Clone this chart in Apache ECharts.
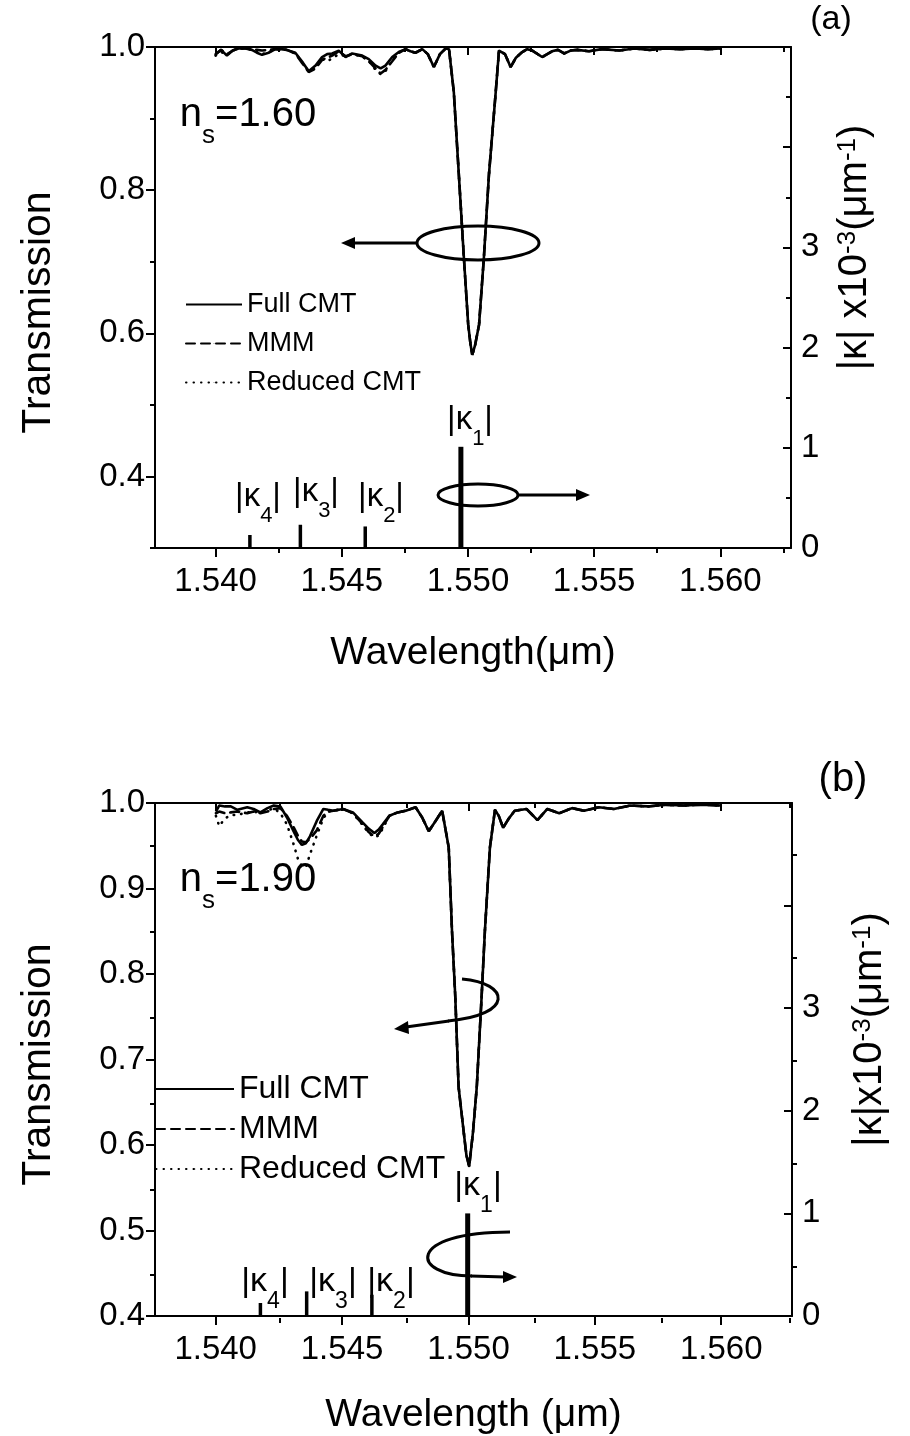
<!DOCTYPE html>
<html>
<head>
<meta charset="utf-8">
<script src="https://cdn.jsdelivr.net/npm/echarts@6.0.0/dist/echarts.min.js"></script>
<style>
  html, body { margin: 0; padding: 0; background: #fff; }
  #chart { width: 910px; height: 1436px; }
</style>
</head>
<body>
<div id="chart"></div>
<script>
// ---------- Panel (a): n_s = 1.60 ----------
const wavelengthA = [
  1.54000, 1.54022, 1.54045, 1.54068, 1.54091, 1.54118, 1.54144, 1.54164, 1.54184, 1.54210,
  1.54237, 1.54260, 1.54282, 1.54316, 1.54342, 1.54369, 1.54396, 1.54422, 1.54442, 1.54462,
  1.54488, 1.54515, 1.54541, 1.54581, 1.54607, 1.54634, 1.54654, 1.54673, 1.54700, 1.54726,
  1.54753, 1.54772, 1.54792, 1.54819, 1.54841, 1.54865, 1.54889, 1.54912, 1.54925, 1.54944,
  1.54964, 1.54984, 1.55001, 1.55010, 1.55017, 1.55028, 1.55044, 1.55063, 1.55083, 1.55110,
  1.55123, 1.55147, 1.55169, 1.55190, 1.55215, 1.55235, 1.55255, 1.55294, 1.55333, 1.55357,
  1.55381, 1.55407, 1.55433, 1.55480, 1.55530, 1.55600, 1.55660, 1.55720, 1.55780, 1.55840,
  1.55900, 1.55950, 1.56000
];
const fullCmtA = [
  0.990, 0.996, 0.988, 0.995, 0.998, 0.998, 0.996, 0.992, 0.989, 0.992,
  0.997, 0.997, 0.996, 0.992, 0.980, 0.966, 0.974, 0.986, 0.990, 0.991,
  0.995, 0.986, 0.991, 0.988, 0.983, 0.974, 0.970, 0.974, 0.986, 0.993,
  0.997, 0.994, 0.992, 0.997, 0.990, 0.972, 0.990, 0.998, 0.997, 0.937,
  0.821, 0.705, 0.612, 0.585, 0.570, 0.583, 0.612, 0.705, 0.821, 0.937,
  0.995, 0.990, 0.972, 0.985, 0.993, 0.997, 0.995, 0.986, 0.994, 0.996,
  0.991, 0.995, 0.996, 0.994, 0.997, 0.995, 0.998, 0.996, 0.998, 0.997,
  0.998, 0.997, 0.998
];
const mmmA = [
  0.990, 0.996, 0.990, 0.995, 0.998, 0.998, 0.997, 0.996, 0.995, 0.996,
  0.997, 0.997, 0.996, 0.991, 0.978, 0.965, 0.970, 0.982, 0.985, 0.988,
  0.994, 0.987, 0.990, 0.987, 0.980, 0.970, 0.963, 0.968, 0.980, 0.992,
  0.997, 0.994, 0.992, 0.997, 0.990, 0.972, 0.990, 0.998, 0.997, 0.937,
  0.821, 0.705, 0.612, 0.585, 0.570, 0.583, 0.612, 0.705, 0.821, 0.937,
  0.995, 0.990, 0.972, 0.985, 0.993, 0.997, 0.995, 0.986, 0.994, 0.996,
  0.991, 0.995, 0.996, 0.994, 0.997, 0.995, 0.998, 0.996, 0.998, 0.997,
  0.998, 0.997, 0.998
];
const reducedCmtA = [
  0.988, 0.993, 0.989, 0.995, 0.998, 0.998, 0.996, 0.993, 0.990, 0.993,
  0.997, 0.997, 0.996, 0.991, 0.979, 0.966, 0.972, 0.983, 0.980, 0.984,
  0.990, 0.987, 0.990, 0.987, 0.981, 0.968, 0.962, 0.966, 0.982, 0.992,
  0.997, 0.994, 0.992, 0.997, 0.990, 0.972, 0.990, 0.998, 0.997, 0.937,
  0.821, 0.705, 0.612, 0.585, 0.570, 0.583, 0.612, 0.705, 0.821, 0.937,
  0.995, 0.990, 0.972, 0.985, 0.993, 0.997, 0.995, 0.986, 0.994, 0.996,
  0.991, 0.995, 0.996, 0.994, 0.997, 0.995, 0.998, 0.996, 0.998, 0.997,
  0.998, 0.997, 0.998
];
// grating coupling coefficients |κ1|..|κ4| (x10^-3 μm^-1)
const kappaWavelengthA = [1.54972, 1.54593, 1.54336, 1.54136];
const kappaA = [1.01, 0.215, 0.232, 0.13];

// ---------- Panel (b): n_s = 1.90 ----------
const wavelengthB = [
  1.54001, 1.54014, 1.54037, 1.54060, 1.54086, 1.54125, 1.54150, 1.54177, 1.54205, 1.54230,
  1.54256, 1.54282, 1.54308, 1.54325, 1.54341, 1.54357, 1.54373, 1.54400, 1.54426, 1.54445,
  1.54465, 1.54504, 1.54543, 1.54582, 1.54605, 1.54628, 1.54645, 1.54661, 1.54687, 1.54720,
  1.54752, 1.54791, 1.54817, 1.54843, 1.54870, 1.54896, 1.54902, 1.54922, 1.54935, 1.54948,
  1.54961, 1.54979, 1.54992, 1.55003, 1.55018, 1.55033, 1.55052, 1.55065, 1.55085, 1.55105,
  1.55120, 1.55137, 1.55160, 1.55183, 1.55230, 1.55273, 1.55312, 1.55359, 1.55410, 1.55457,
  1.55516, 1.55575, 1.55640, 1.55710, 1.55780, 1.55850, 1.55920, 1.56000
];
const fullCmtB = [
  0.990, 0.997, 0.996, 0.996, 0.992, 0.995, 0.993, 0.989, 0.994, 0.997,
  0.996, 0.983, 0.967, 0.957, 0.951, 0.953, 0.961, 0.979, 0.993, 0.992,
  0.991, 0.993, 0.989, 0.977, 0.970, 0.965, 0.969, 0.975, 0.985, 0.989,
  0.991, 0.995, 0.983, 0.967, 0.979, 0.991, 0.992, 0.948, 0.850, 0.773,
  0.668, 0.621, 0.588, 0.575, 0.615, 0.668, 0.773, 0.850, 0.948, 0.992,
  0.985, 0.971, 0.982, 0.991, 0.993, 0.980, 0.993, 0.988, 0.994, 0.991,
  0.995, 0.993, 0.997, 0.996, 0.998, 0.997, 0.998, 0.997
];
const mmmB = [
  0.988, 0.990, 0.988, 0.989, 0.990, 0.988, 0.990, 0.988, 0.990, 0.993,
  0.994, 0.985, 0.972, 0.962, 0.955, 0.954, 0.958, 0.968, 0.985, 0.990,
  0.991, 0.993, 0.988, 0.975, 0.966, 0.961, 0.964, 0.972, 0.985, 0.989,
  0.991, 0.995, 0.983, 0.967, 0.979, 0.991, 0.992, 0.948, 0.850, 0.773,
  0.668, 0.621, 0.588, 0.575, 0.615, 0.668, 0.773, 0.850, 0.948, 0.992,
  0.985, 0.971, 0.982, 0.991, 0.993, 0.980, 0.993, 0.988, 0.994, 0.991,
  0.995, 0.993, 0.997, 0.996, 0.998, 0.997, 0.998, 0.997
];
const reducedCmtB = [
  0.985, 0.973, 0.982, 0.986, 0.986, 0.989, 0.989, 0.990, 0.991, 0.994,
  0.988, 0.975, 0.952, 0.935, 0.926, 0.925, 0.940, 0.962, 0.982, 0.990,
  0.991, 0.993, 0.988, 0.974, 0.965, 0.960, 0.962, 0.970, 0.985, 0.989,
  0.991, 0.995, 0.983, 0.967, 0.979, 0.991, 0.992, 0.948, 0.850, 0.773,
  0.668, 0.621, 0.588, 0.575, 0.615, 0.668, 0.773, 0.850, 0.948, 0.992,
  0.985, 0.971, 0.982, 0.991, 0.993, 0.980, 0.993, 0.988, 0.994, 0.991,
  0.995, 0.993, 0.997, 0.996, 0.998, 0.997, 0.998, 0.997
];
const kappaWavelengthB = [1.54997, 1.54618, 1.54360, 1.54177];
const kappaB = [1.00, 0.207, 0.240, 0.127];

// ---------- Ticks ----------
const wlMajor = [1.540, 1.545, 1.550, 1.555, 1.560];
const wlMinor = [1.5425, 1.5475, 1.5525, 1.5575, 1.5625];
const transMajorA = [0.4, 0.6, 0.8, 1.0];
const transMinorA = [0.3, 0.5, 0.7, 0.9];
const transMajorB = [0.4, 0.5, 0.6, 0.7, 0.8, 0.9, 1.0];
const transMinorB = [0.45, 0.55, 0.65, 0.75, 0.85, 0.95];
const kappaMajor = [0, 1, 2, 3, 4, 5];
const kappaLabeled = [0, 1, 2, 3];
const kappaMinor = [0.5, 1.5, 2.5, 3.5, 4.5];
const seriesNames = ['Full CMT', 'MMM', 'Reduced CMT'];

// ---------- Layout / style ----------
const FONT = '"Liberation Sans", Arial, Helvetica, sans-serif';
const BLACK = '#000';
const WL_MIN = 1.5376, WL_MAX = 1.5628;
const gridA = { left: 155, top: 47, width: 636, height: 501 };
const gridB = { left: 155, top: 803, width: 642, height: 515 };

const pairs = (xs, ys) => xs.map((x, i) => [x, ys[i]]);
const tickFont = { fontSize: 33, color: BLACK, fontFamily: FONT };
const titleFont = { fontSize: 39, color: BLACK, fontFamily: FONT };
const axisLineStyle = { color: BLACK, width: 2 };

function xAxisDef(gridIndex, position, ticks, opts) {
  return {
    type: 'value', gridIndex, position, min: WL_MIN, max: WL_MAX,
    axisLine: { show: opts.line, onZero: false, lineStyle: axisLineStyle },
    axisTick: { show: true, inside: position === 'top', length: opts.len, customValues: ticks, lineStyle: axisLineStyle },
    axisLabel: { show: !!opts.labels, customValues: ticks, formatter: v => v.toFixed(3), margin: 17, ...tickFont },
    splitLine: { show: false },
    name: opts.name || '', nameLocation: 'middle', nameGap: opts.nameGap || 0, nameTextStyle: titleFont,
    silent: true
  };
}
function yAxisDef(gridIndex, position, min, max, ticks, opts) {
  return {
    type: 'value', gridIndex, position, min, max,
    axisLine: { show: opts.line, onZero: false, lineStyle: axisLineStyle },
    axisTick: { show: true, inside: position === 'right', length: opts.len, customValues: ticks, lineStyle: axisLineStyle },
    axisLabel: {
      show: !!opts.labels, customValues: opts.labels || ticks, margin: 10,
      formatter: opts.fmt || (v => String(v)), ...tickFont
    },
    splitLine: { show: false },
    name: opts.name || '', nameLocation: 'middle', nameGap: opts.nameGap || 0, nameRotate: 90,
    nameTextStyle: opts.nameStyle || titleFont,
    silent: true
  };
}

// left-axis title; right padding nudges it down along the axis
const transTitleStyle = (shift) => ({ ...titleFont, fontSize: 41, padding: [0, shift, 0, 0] });
// right-axis title with superscripts; left padding nudges it up along the axis
const kappaTitleStyle = (shift) => ({
  ...titleFont, fontSize: 40, padding: [0, 0, 0, shift],
  rich: {
    m: { fontSize: 40, lineHeight: 52, fontFamily: FONT, color: BLACK, verticalAlign: 'top' },
    sup: { fontSize: 26, lineHeight: 26, padding: [0, 0, 26, 0], fontFamily: FONT, color: BLACK, verticalAlign: 'top' }
  }
});

const xAxes = [
  xAxisDef(0, 'bottom', wlMajor, { line: true, len: 9, labels: true, name: 'Wavelength(μm)', nameGap: 86 }),
  xAxisDef(0, 'top', wlMajor, { line: true, len: 8 }),
  xAxisDef(1, 'bottom', wlMinor, { line: false, len: 5 }),
  xAxisDef(1, 'top', wlMinor, { line: false, len: 5 }),
  xAxisDef(2, 'bottom', wlMajor, { line: true, len: 9, labels: true, name: 'Wavelength (μm)', nameGap: 80 }),
  xAxisDef(2, 'top', wlMajor, { line: true, len: 8 }),
  xAxisDef(3, 'bottom', wlMinor, { line: false, len: 5 }),
  xAxisDef(3, 'top', wlMinor, { line: false, len: 5 })
];
const fmt1 = v => v.toFixed(1);
const yAxes = [
  yAxisDef(0, 'left', 0.3, 1.0, transMajorA, { line: true, len: 9, labels: transMajorA, fmt: fmt1,
    name: 'Transmission', nameGap: 96, nameStyle: transTitleStyle(30) }),
  yAxisDef(0, 'right', 0, 5, kappaMajor, { line: true, len: 8, labels: kappaLabeled,
    name: '{m||κ| x10}{sup|-3}{m|(μm}{sup|-1}{m|)}', nameGap: 44, nameStyle: kappaTitleStyle(100) }),
  yAxisDef(1, 'left', 0.3, 1.0, transMinorA, { line: false, len: 5 }),
  yAxisDef(1, 'right', 0, 5, kappaMinor, { line: false, len: 5 }),
  yAxisDef(2, 'left', 0.4, 1.0, transMajorB, { line: true, len: 9, labels: transMajorB, fmt: fmt1,
    name: 'Transmission', nameGap: 96, nameStyle: transTitleStyle(10) }),
  yAxisDef(2, 'right', 0, 5, kappaMajor, { line: true, len: 8, labels: kappaLabeled,
    name: '{m||κ|x10}{sup|-3}{m|(μm}{sup|-1}{m|)}', nameGap: 58, nameStyle: kappaTitleStyle(60) }),
  yAxisDef(3, 'left', 0.4, 1.0, transMinorB, { line: false, len: 5 }),
  yAxisDef(3, 'right', 0, 5, kappaMinor, { line: false, len: 5 })
];

function curve(name, wl, t, dash, xi, yi, z) {
  return {
    type: 'line', name, data: pairs(wl, t), xAxisIndex: xi, yAxisIndex: yi,
    symbol: 'none', showSymbol: false, smooth: false, z, silent: true,
    lineStyle: { color: BLACK, width: 2.6, type: dash, cap: dash === 'solid' ? 'butt' : 'round' },
    itemStyle: { color: BLACK },
    emphasis: { disabled: true }
  };
}
const DOTTED = [0.5, 7];
const DASHED = [9, 6];

// vertical sticks for the coupling coefficients; |κ1| drawn heavier
function kappaSticks(wl, k, xi, yi) {
  return {
    type: 'custom', xAxisIndex: xi, yAxisIndex: yi, silent: true, z: 5,
    data: pairs(wl, k),
    renderItem(params, api) {
      const p0 = api.coord([api.value(0), 0]);
      const p1 = api.coord([api.value(0), api.value(1)]);
      return {
        type: 'line',
        shape: { x1: p0[0], y1: p0[1], x2: p1[0], y2: p1[1] },
        style: { stroke: BLACK, lineWidth: params.dataIndex === 0 ? 5 : 3.5 }
      };
    }
  };
}

const series = [
  curve('Reduced CMT', wavelengthA, reducedCmtA, DOTTED, 0, 0, 2),
  curve('MMM', wavelengthA, mmmA, DASHED, 0, 0, 3),
  curve('Full CMT', wavelengthA, fullCmtA, 'solid', 0, 0, 4),
  kappaSticks(kappaWavelengthA, kappaA, 0, 1),
  curve('Reduced CMT', wavelengthB, reducedCmtB, DOTTED, 4, 4, 2),
  curve('MMM', wavelengthB, mmmB, DASHED, 4, 4, 3),
  curve('Full CMT', wavelengthB, fullCmtB, 'solid', 4, 4, 4),
  kappaSticks(kappaWavelengthB, kappaB, 4, 5)
];

// legend keys are plain line samples (the marker is shrunk away)
const legendBase = {
  data: seriesNames, orient: 'vertical', selectedMode: false,
  itemHeight: 1, padding: 0
};
const legends = [
  { ...legendBase, left: 185, top: 291, itemWidth: 56, itemGap: 12,
    textStyle: { fontSize: 27, color: BLACK, fontFamily: FONT } },
  { ...legendBase, left: 155, top: 1073, itemWidth: 78, itemGap: 8,
    textStyle: { fontSize: 32, color: BLACK, fontFamily: FONT } }
];

// ---------- Annotations ----------
const subRich = (size, sub, drop) => ({
  m: { fontSize: size, lineHeight: size + 4, fontFamily: FONT, color: BLACK, verticalAlign: 'top' },
  s: { fontSize: sub, lineHeight: sub, padding: [drop, 0, 0, 0], fontFamily: FONT, color: BLACK, verticalAlign: 'top' }
});
function label(x, y, text, rich, extra) {
  return { type: 'text', x, y, silent: true, z: 10,
    style: { text, rich, align: 'center', verticalAlign: 'middle', fill: BLACK, fontFamily: FONT, ...(extra || {}) } };
}
const kRichA = subRich(33, 22, 24);
const kRichB = subRich(34, 23, 25);
const nsRich = subRich(40, 26, 28);
const stroke = { stroke: BLACK, lineWidth: 3, fill: 'none' };
const head = pts => ({ type: 'polygon', silent: true, z: 10, shape: { points: pts }, style: { fill: BLACK } });

const graphics = [
  label(248, 117, '{m|n}{s|s}{m|=1.60}', nsRich),
  label(248, 882, '{m|n}{s|s}{m|=1.90}', nsRich),
  label(831, 20, '(a)', null, { fontSize: 34 }),
  label(843, 780, '(b)', null, { fontSize: 40 }),
  // |κ| labels, panel (a)
  label(470, 422, '{m||κ}{s|1}{m||}', kRichA),
  label(258, 499, '{m||κ}{s|4}{m||}', kRichA),
  label(316, 494, '{m||κ}{s|3}{m||}', kRichA),
  label(381, 499, '{m||κ}{s|2}{m||}', kRichA),
  // |κ| labels, panel (b)
  label(478, 1188, '{m||κ}{s|1}{m||}', kRichB),
  label(265, 1284, '{m||κ}{s|4}{m||}', kRichB),
  label(333, 1284, '{m||κ}{s|3}{m||}', kRichB),
  label(391, 1284, '{m||κ}{s|2}{m||}', kRichB),
  // panel (a): ellipse markers pointing to the relevant axis
  { type: 'ellipse', silent: true, z: 10, shape: { cx: 478, cy: 243, rx: 61, ry: 17 }, style: stroke },
  { type: 'line', silent: true, z: 10, shape: { x1: 417, y1: 243, x2: 352, y2: 243 }, style: stroke },
  head([[341, 243], [355, 237], [355, 249]]),
  { type: 'ellipse', silent: true, z: 10, shape: { cx: 478, cy: 495, rx: 40, ry: 11 }, style: stroke },
  { type: 'line', silent: true, z: 10, shape: { x1: 518, y1: 495, x2: 578, y2: 495 }, style: stroke },
  head([[590, 495], [576, 489], [576, 501]]),
  // panel (b): curved arrows
  { type: 'bezierCurve', silent: true, z: 10,
    shape: { x1: 462, y1: 979, cpx1: 510, cpy1: 983, cpx2: 515, cpy2: 1015, x2: 448, y2: 1021 }, style: stroke },
  { type: 'line', silent: true, z: 10, shape: { x1: 449, y1: 1021, x2: 406, y2: 1027 }, style: stroke },
  head([[394, 1029], [408, 1021], [409, 1034]]),
  { type: 'bezierCurve', silent: true, z: 10,
    shape: { x1: 510, y1: 1232, cpx1: 405, cpy1: 1232, cpx2: 410, cpy2: 1276, x2: 472, y2: 1276 }, style: stroke },
  { type: 'line', silent: true, z: 10, shape: { x1: 471, y1: 1276, x2: 505, y2: 1277 }, style: stroke },
  head([[517, 1277], [503, 1271], [503, 1283]])
];

const chart = echarts.init(document.getElementById('chart'), null, { renderer: 'canvas' });
chart.setOption({
  animation: false,
  backgroundColor: '#fff',
  textStyle: { fontFamily: FONT, color: BLACK },
  grid: [gridA, gridA, gridB, gridB].map(g => ({ ...g, containLabel: false, show: false })),
  xAxis: xAxes,
  yAxis: yAxes,
  legend: legends,
  series,
  graphic: graphics
});
</script>
</body>
</html>
